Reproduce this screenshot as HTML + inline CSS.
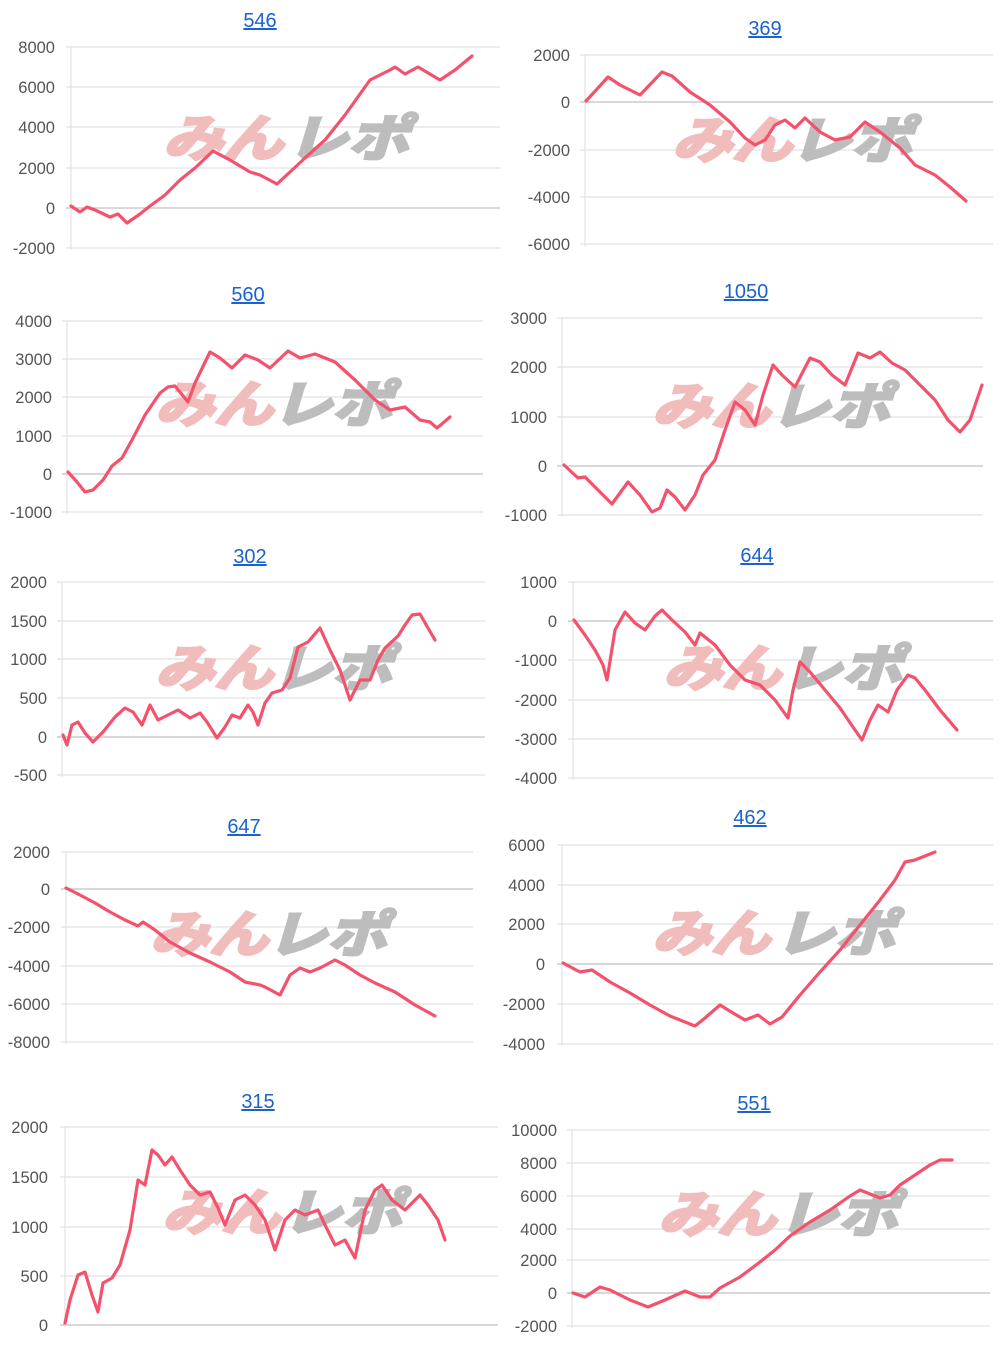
<!DOCTYPE html>
<html><head><meta charset="utf-8"><style>
html,body{margin:0;padding:0;background:#fff;}
svg{display:block;}
.t{font:20px "Liberation Sans",sans-serif;fill:#1b62cf;text-anchor:middle;text-decoration:underline;}
.l{font:16.5px "Liberation Sans",sans-serif;fill:#555;text-anchor:end;}
.g{stroke:#e2e2e2;stroke-width:1.2;}
.a{stroke:#ccc;stroke-width:1.5;}
.s{fill:none;stroke:#f4526c;stroke-width:3.2;stroke-linejoin:round;stroke-linecap:round;}
.w1{font:italic bold 50px "Liberation Sans","Noto Sans CJK JP",sans-serif;fill:#f1bcbc;stroke:#f1bcbc;stroke-width:3;}
.w2{font:italic bold 50px "Liberation Sans","Noto Sans CJK JP",sans-serif;fill:#bdbdbd;stroke:#bdbdbd;stroke-width:3;}
</style></head><body>
<svg width="1000" height="1348" viewBox="0 0 1000 1348">

<!-- 546 -->
<text class="t" x="260" y="27">546</text>
<g class="g"><line x1="66" x2="500" y1="47" y2="47"/><line x1="66" x2="500" y1="87" y2="87"/><line x1="66" x2="500" y1="127" y2="127"/><line x1="66" x2="500" y1="168" y2="168"/><line x1="66" x2="500" y1="248" y2="248"/></g>
<line class="a" x1="66" x2="500" y1="208" y2="208"/><line class="g" x1="71" x2="71" y1="47" y2="250"/>
<g class="l"><text x="55" y="53">8000</text><text x="55" y="93">6000</text><text x="55" y="133">4000</text><text x="55" y="174">2000</text><text x="55" y="214">0</text><text x="55" y="254">-2000</text></g>
<text class="w1" x="163" y="156" textLength="120" lengthAdjust="spacingAndGlyphs">みん</text><text class="w2" x="287" y="156" textLength="122" lengthAdjust="spacingAndGlyphs">レポ</text>
<polyline class="s" points="71,206 80,212 87,207 95,210 110,217 118,214 127,223 140,214 150,206 165,195 180,180 195,168 213,151 230,160 250,172 260,175 277,184 290,172 305,158 325,140 345,115 370,80 390,70 395,67 405,74 418,67 440,80 455,70 472,56"/>

<!-- 369 -->
<text class="t" x="765" y="35">369</text>
<g class="g"><line x1="580" x2="993" y1="55" y2="55"/><line x1="580" x2="993" y1="150" y2="150"/><line x1="580" x2="993" y1="197" y2="197"/><line x1="580" x2="993" y1="244" y2="244"/></g>
<line class="a" x1="580" x2="993" y1="102" y2="102"/><line class="g" x1="585" x2="585" y1="55" y2="246"/>
<g class="l"><text x="570" y="61">2000</text><text x="570" y="108">0</text><text x="570" y="156">-2000</text><text x="570" y="203">-4000</text><text x="570" y="250">-6000</text></g>
<text class="w1" x="672" y="158" textLength="120" lengthAdjust="spacingAndGlyphs">みん</text><text class="w2" x="790" y="158" textLength="122" lengthAdjust="spacingAndGlyphs">レポ</text>
<polyline class="s" points="586,101 598,88 608,77 620,85 640,95 662,72 672,76 690,92 710,105 730,122 745,138 755,145 765,140 775,125 785,120 795,128 805,118 820,132 835,140 850,137 865,122 880,132 900,148 915,165 935,175 950,187 966,201"/>

<!-- 560 -->
<text class="t" x="248" y="301">560</text>
<g class="g"><line x1="62" x2="483" y1="321" y2="321"/><line x1="62" x2="483" y1="359" y2="359"/><line x1="62" x2="483" y1="397" y2="397"/><line x1="62" x2="483" y1="436" y2="436"/><line x1="62" x2="483" y1="512" y2="512"/></g>
<line class="a" x1="62" x2="483" y1="474" y2="474"/><line class="g" x1="67" x2="67" y1="321" y2="514"/>
<g class="l"><text x="52" y="327">4000</text><text x="52" y="365">3000</text><text x="52" y="403">2000</text><text x="52" y="442">1000</text><text x="52" y="480">0</text><text x="52" y="518">-1000</text></g>
<text class="w1" x="155" y="422" textLength="118" lengthAdjust="spacingAndGlyphs">みん</text><text class="w2" x="272" y="422" textLength="120" lengthAdjust="spacingAndGlyphs">レポ</text>
<polyline class="s" points="68,472 77,482 85,492 93,490 103,480 112,466 122,458 132,440 145,415 160,393 168,387 175,386 188,402 195,383 210,352 220,358 232,368 245,355 258,360 270,368 288,351 300,358 315,354 335,362 355,380 375,400 390,410 405,407 420,420 430,422 437,428 450,417"/>

<!-- 1050 -->
<text class="t" x="746" y="298">1050</text>
<g class="g"><line x1="557" x2="983" y1="318" y2="318"/><line x1="557" x2="983" y1="367" y2="367"/><line x1="557" x2="983" y1="417" y2="417"/><line x1="557" x2="983" y1="515" y2="515"/></g>
<line class="a" x1="557" x2="983" y1="466" y2="466"/><line class="g" x1="562" x2="562" y1="318" y2="517"/>
<g class="l"><text x="547" y="324">3000</text><text x="547" y="373">2000</text><text x="547" y="423">1000</text><text x="547" y="472">0</text><text x="547" y="521">-1000</text></g>
<text class="w1" x="652" y="424" textLength="118" lengthAdjust="spacingAndGlyphs">みん</text><text class="w2" x="770" y="424" textLength="120" lengthAdjust="spacingAndGlyphs">レポ</text>
<polyline class="s" points="564,465 578,478 585,477 600,492 612,504 628,482 640,495 652,512 660,508 667,490 675,497 685,510 695,495 703,475 715,460 725,430 735,402 745,410 755,425 763,395 773,365 782,375 795,387 810,358 820,362 832,375 845,385 858,353 870,358 880,352 892,363 905,370 920,385 935,400 948,420 960,432 970,420 982,385"/>

<!-- 302 -->
<text class="t" x="250" y="563">302</text>
<g class="g"><line x1="57" x2="485" y1="582" y2="582"/><line x1="57" x2="485" y1="621" y2="621"/><line x1="57" x2="485" y1="659" y2="659"/><line x1="57" x2="485" y1="698" y2="698"/><line x1="57" x2="485" y1="775" y2="775"/></g>
<line class="a" x1="57" x2="485" y1="737" y2="737"/><line class="g" x1="62" x2="62" y1="582" y2="777"/>
<g class="l"><text x="47" y="588">2000</text><text x="47" y="627">1500</text><text x="47" y="665">1000</text><text x="47" y="704">500</text><text x="47" y="743">0</text><text x="47" y="781">-500</text></g>
<text class="w1" x="155" y="686" textLength="118" lengthAdjust="spacingAndGlyphs">みん</text><text class="w2" x="272" y="686" textLength="120" lengthAdjust="spacingAndGlyphs">レポ</text>
<polyline class="s" points="63,735 67,745 72,725 78,722 85,733 93,742 103,732 115,717 125,708 133,712 142,725 150,705 158,720 168,715 178,710 190,718 200,713 207,722 217,738 225,727 232,715 240,718 248,705 253,712 258,725 265,703 272,693 282,690 290,678 298,647 308,642 320,628 330,650 340,670 350,700 360,680 370,680 378,660 385,648 398,636 405,625 412,615 420,614 428,628 435,640"/>

<!-- 644 -->
<text class="t" x="757" y="562">644</text>
<g class="g"><line x1="568" x2="993" y1="582" y2="582"/><line x1="568" x2="993" y1="660" y2="660"/><line x1="568" x2="993" y1="700" y2="700"/><line x1="568" x2="993" y1="739" y2="739"/><line x1="568" x2="993" y1="778" y2="778"/></g>
<line class="a" x1="568" x2="993" y1="621" y2="621"/><line class="g" x1="573" x2="573" y1="582" y2="780"/>
<g class="l"><text x="557" y="588">1000</text><text x="557" y="627">0</text><text x="557" y="666">-1000</text><text x="557" y="706">-2000</text><text x="557" y="745">-3000</text><text x="557" y="784">-4000</text></g>
<text class="w1" x="663" y="686" textLength="118" lengthAdjust="spacingAndGlyphs">みん</text><text class="w2" x="782" y="686" textLength="120" lengthAdjust="spacingAndGlyphs">レポ</text>
<polyline class="s" points="574,620 585,635 595,650 603,665 607,680 615,630 625,612 635,623 645,630 655,616 662,610 672,620 685,632 695,645 700,633 715,645 730,665 745,680 760,685 775,700 788,718 793,690 800,662 810,672 825,690 840,708 855,730 862,740 870,720 878,705 888,712 897,690 908,675 915,678 925,690 940,710 957,730"/>

<!-- 647 -->
<text class="t" x="244" y="833">647</text>
<g class="g"><line x1="61" x2="473" y1="852" y2="852"/><line x1="61" x2="473" y1="927" y2="927"/><line x1="61" x2="473" y1="966" y2="966"/><line x1="61" x2="473" y1="1004" y2="1004"/><line x1="61" x2="473" y1="1042" y2="1042"/></g>
<line class="a" x1="61" x2="473" y1="889" y2="889"/><line class="g" x1="66" x2="66" y1="852" y2="1044"/>
<g class="l"><text x="50" y="858">2000</text><text x="50" y="895">0</text><text x="50" y="933">-2000</text><text x="50" y="972">-4000</text><text x="50" y="1010">-6000</text><text x="50" y="1048">-8000</text></g>
<text class="w1" x="150" y="952" textLength="118" lengthAdjust="spacingAndGlyphs">みん</text><text class="w2" x="267" y="952" textLength="120" lengthAdjust="spacingAndGlyphs">レポ</text>
<polyline class="s" points="66,888 80,895 95,903 110,912 125,920 138,926 143,922 155,930 170,942 190,953 210,962 230,972 245,982 260,985 265,987 280,995 290,975 300,968 310,972 320,968 335,960 345,965 360,975 375,983 395,992 415,1005 435,1016"/>

<!-- 462 -->
<text class="t" x="750" y="824">462</text>
<g class="g"><line x1="557" x2="993" y1="845" y2="845"/><line x1="557" x2="993" y1="885" y2="885"/><line x1="557" x2="993" y1="924" y2="924"/><line x1="557" x2="993" y1="1004" y2="1004"/><line x1="557" x2="993" y1="1044" y2="1044"/></g>
<line class="a" x1="557" x2="993" y1="964" y2="964"/><line class="g" x1="562" x2="562" y1="845" y2="1046"/>
<g class="l"><text x="545" y="851">6000</text><text x="545" y="891">4000</text><text x="545" y="930">2000</text><text x="545" y="970">0</text><text x="545" y="1010">-2000</text><text x="545" y="1050">-4000</text></g>
<text class="w1" x="652" y="951" textLength="118" lengthAdjust="spacingAndGlyphs">みん</text><text class="w2" x="775" y="951" textLength="120" lengthAdjust="spacingAndGlyphs">レポ</text>
<polyline class="s" points="563,963 580,972 592,970 610,982 630,993 650,1005 670,1016 695,1026 705,1018 720,1005 733,1013 745,1020 758,1015 770,1024 782,1017 800,995 820,972 840,950 860,925 880,900 895,880 905,862 915,860 935,852"/>

<!-- 315 -->
<text class="t" x="258" y="1108">315</text>
<g class="g"><line x1="60" x2="498" y1="1127" y2="1127"/><line x1="60" x2="498" y1="1177" y2="1177"/><line x1="60" x2="498" y1="1227" y2="1227"/><line x1="60" x2="498" y1="1276" y2="1276"/></g>
<line class="a" x1="60" x2="498" y1="1325" y2="1325"/><line class="g" x1="65" x2="65" y1="1127" y2="1327"/>
<g class="l"><text x="48" y="1133">2000</text><text x="48" y="1183">1500</text><text x="48" y="1233">1000</text><text x="48" y="1282">500</text><text x="48" y="1331">0</text></g>
<text class="w1" x="162" y="1230" textLength="118" lengthAdjust="spacingAndGlyphs">みん</text><text class="w2" x="282" y="1230" textLength="120" lengthAdjust="spacingAndGlyphs">レポ</text>
<polyline class="s" points="65,1323 70,1300 78,1275 85,1272 92,1295 98,1312 103,1283 112,1278 120,1265 130,1230 138,1180 145,1185 152,1150 158,1155 165,1165 172,1157 180,1170 190,1185 200,1195 210,1192 218,1208 225,1225 235,1200 245,1195 255,1205 265,1220 275,1250 285,1220 295,1210 305,1215 318,1210 325,1225 335,1245 345,1240 355,1258 365,1210 375,1190 382,1185 392,1200 405,1210 420,1195 428,1205 438,1220 445,1240"/>

<!-- 551 -->
<text class="t" x="754" y="1110">551</text>
<g class="g"><line x1="567" x2="990" y1="1130" y2="1130"/><line x1="567" x2="990" y1="1163" y2="1163"/><line x1="567" x2="990" y1="1196" y2="1196"/><line x1="567" x2="990" y1="1229" y2="1229"/><line x1="567" x2="990" y1="1260" y2="1260"/><line x1="567" x2="990" y1="1326" y2="1326"/></g>
<line class="a" x1="567" x2="990" y1="1293" y2="1293"/><line class="g" x1="572" x2="572" y1="1130" y2="1328"/>
<g class="l"><text x="557" y="1136">10000</text><text x="557" y="1169">8000</text><text x="557" y="1202">6000</text><text x="557" y="1235">4000</text><text x="557" y="1266">2000</text><text x="557" y="1299">0</text><text x="557" y="1332">-2000</text></g>
<text class="w1" x="658" y="1232" textLength="118" lengthAdjust="spacingAndGlyphs">みん</text><text class="w2" x="778" y="1232" textLength="120" lengthAdjust="spacingAndGlyphs">レポ</text>
<polyline class="s" points="573,1293 585,1297 600,1287 610,1290 630,1300 648,1307 665,1300 685,1291 700,1297 710,1297 720,1288 740,1277 760,1262 775,1250 790,1236 810,1222 830,1210 850,1196 860,1190 870,1194 880,1198 890,1195 900,1185 915,1175 930,1165 940,1160 952,1160"/>

</svg>
</body></html>
